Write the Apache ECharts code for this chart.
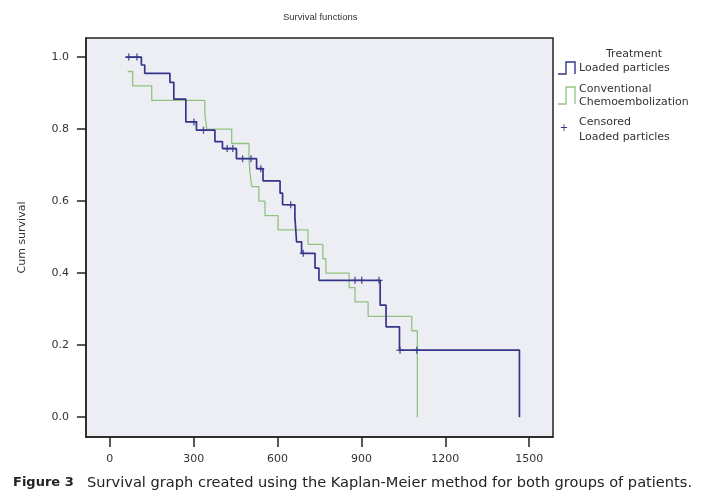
<!DOCTYPE html>
<html>
<head>
<meta charset="utf-8">
<script src="https://cdn.jsdelivr.net/npm/echarts@6/dist/echarts.min.js"></script>
<style>
  html, body { margin: 0; padding: 0; background: #fff; }
  #chart { width: 701px; height: 496px; }
</style>
</head>
<body>
<div id="chart"></div>
<script>
// Loaded particles (Kaplan-Meier steps: time, survival after the event)
const loadedTime = [57, 113, 125, 215, 229, 272, 310, 376, 403, 453, 525, 548, 609, 618, 662, 668, 686, 734, 748, 967, 988, 1036, 1465];
const loadedSurv = [1.0, 0.978, 0.955, 0.93, 0.883, 0.82, 0.797, 0.765, 0.746, 0.718, 0.69, 0.656, 0.622, 0.59, 0.556, 0.487, 0.455, 0.414, 0.38, 0.311, 0.251, 0.186, 0.0];

// Conventional chemoembolization
const convTime = [64, 82, 150, 340, 347, 436, 498, 501, 508, 533, 555, 602, 709, 762, 773, 856, 877, 924, 1080, 1100];
const convSurv = [0.96, 0.92, 0.88, 0.84, 0.80, 0.76, 0.72, 0.68, 0.64, 0.60, 0.56, 0.52, 0.48, 0.44, 0.40, 0.36, 0.32, 0.28, 0.24, 0.0];

// Censored, loaded particles
const censorTime = [68, 97, 301, 335, 420, 440, 475, 505, 540, 647, 692, 877, 901, 963, 1038, 1098];
const censorSurv = [1.0, 1.0, 0.82, 0.797, 0.746, 0.746, 0.718, 0.718, 0.69, 0.59, 0.455, 0.38, 0.38, 0.38, 0.186, 0.186];

const xTicks = [0, 300, 600, 900, 1200, 1500];
const yTicks = [0, 0.2, 0.4, 0.6, 0.8, 1.0];

const blue = "#34358a";
const green = "#92c282";
const ink = "#333";
const font = "DejaVu Sans";

const zip = (a, b) => a.map((v, i) => [v, b[i]]);

const chart = echarts.init(document.getElementById("chart"), null, { renderer: "canvas" });

const legendText = (x, y, text) => ({
  type: "text", x, y,
  style: { text, fill: ink, fontSize: 11, fontFamily: font, verticalAlign: "middle" }
});

chart.setOption({
  animation: false,
  backgroundColor: "#fff",
  textStyle: { fontFamily: font },
  grid: {
    left: 86, right: 148, top: 38, bottom: 59,
    show: true,
    backgroundColor: "#eceef3",
    borderColor: "#222",
    borderWidth: 1.5
  },
  xAxis: {
    type: "value",
    min: -85,
    max: 1585,
    axisLine: { show: true, onZero: false, lineStyle: { color: "#222", width: 1.5 } },
    axisTick: { show: true, customValues: xTicks, length: 10, lineStyle: { color: "#222", width: 1.5 } },
    axisLabel: {
      customValues: xTicks, color: ink, fontSize: 11, margin: 17, fontFamily: font,
      formatter: v => String(v)
    },
    splitLine: { show: false }
  },
  yAxis: {
    type: "value",
    min: -0.055,
    max: 1.053,
    name: "Cum survival",
    nameLocation: "middle",
    nameGap: 58,
    nameRotate: 90,
    nameTextStyle: { color: ink, fontSize: 11, fontFamily: font },
    axisLine: { show: true, onZero: false, lineStyle: { color: "#222", width: 1.5 } },
    axisTick: { show: true, customValues: yTicks, length: 9, lineStyle: { color: "#222", width: 1.5 } },
    axisLabel: {
      customValues: yTicks, color: ink, fontSize: 11, margin: 17, fontFamily: font,
      formatter: v => v.toFixed(1)
    },
    splitLine: { show: false }
  },
  series: [
    {
      name: "Conventional Chemoembolization",
      type: "line",
      step: "end",
      symbol: "none",
      data: zip(convTime, convSurv),
      lineStyle: { color: green, width: 1.3 },
      z: 2
    },
    {
      name: "Loaded particles",
      type: "line",
      step: "end",
      symbol: "none",
      data: zip(loadedTime, loadedSurv),
      lineStyle: { color: blue, width: 1.7 },
      z: 3
    },
    {
      name: "Censored Loaded particles",
      type: "scatter",
      symbol: "path://M4,0h2v4h4v2h-4v4h-2v-4h-4v-2h4z",
      symbolSize: 7,
      data: zip(censorTime, censorSurv),
      itemStyle: { color: blue },
      z: 4
    }
  ],
  graphic: [
    { type: "text", left: 319 - 36, top: 12, style: { text: "Survival functions", fill: ink, fontSize: 9.5, fontFamily: "Liberation Sans" } },
    // legend
    { type: "text", x: 634, y: 54, style: { text: "Treatment", fill: ink, fontSize: 11, fontFamily: font, align: "center", verticalAlign: "middle" } },
    { type: "polyline", shape: { points: [[558, 74], [566, 74], [566, 62], [575, 62], [575, 74]] }, style: { stroke: blue, lineWidth: 1.4, fill: null } },
    legendText(579, 68, "Loaded particles"),
    { type: "polyline", shape: { points: [[558, 104], [566, 104], [566, 87], [575, 87], [575, 104]] }, style: { stroke: green, lineWidth: 1.3, fill: null } },
    legendText(579, 89, "Conventional"),
    legendText(579, 102, "Chemoembolization"),
    { type: "text", x: 564, y: 128, style: { text: "+", fill: blue, fontSize: 10, fontFamily: font, align: "center", verticalAlign: "middle" } },
    legendText(579, 122, "Censored"),
    legendText(579, 137, "Loaded particles"),
    // caption
    {
      type: "text", x: 13, y: 483,
      style: {
        text: "{b|Figure 3}   {r|Survival graph created using the Kaplan-Meier method for both groups of patients.}",
        fill: "#222", fontSize: 14, fontFamily: font, verticalAlign: "middle",
        rich: {
          b: { fontWeight: "bold", fontSize: 13, fontFamily: font, fill: "#222" },
          r: { fontSize: 14.6, fontFamily: font, fill: "#222" }
        }
      }
    }
  ]
});
</script>
</body>
</html>
